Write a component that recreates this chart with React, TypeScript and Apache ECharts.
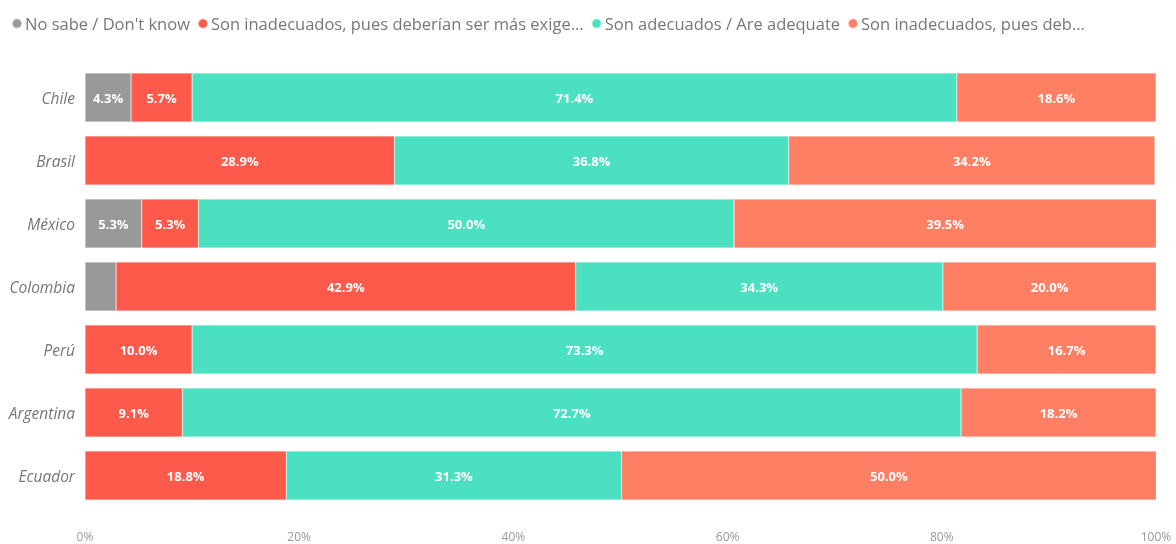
import React, { useEffect, useRef } from "react";
import * as echarts from "echarts";

const categories = ["Chile", "Brasil", "México", "Colombia", "Perú", "Argentina", "Ecuador"];
const seriesNames = [
  "No sabe / Don't know",
  "Son inadecuados, pues deberían ser más exigentes",
  "Son adecuados / Are adequate",
  "Son inadecuados, pues deberían ser menos exigentes",
];
const legendLabels = [
  "No sabe / Don't know",
  "Son inadecuados, pues deberían ser más exige...",
  "Son adecuados / Are adequate",
  "Son inadecuados, pues deb...",
];
const noSabe = [4.3, null, 5.3, 2.9, null, null, null];
const masExigentes = [5.7, 28.9, 5.3, 42.9, 10.0, 9.1, 18.8];
const adecuados = [71.4, 36.8, 50.0, 34.3, 73.3, 72.7, 31.3];
const menosExigentes = [18.6, 34.2, 39.5, 20.0, 16.7, 18.2, 50.0];
const xTicks = [0, 20, 40, 60, 80, 100];
const colors = ["#999999", "#FD5A4B", "#4BE0C1", "#FE7F63"];

export default function App() {
  const ref = useRef<HTMLDivElement>(null);
  useEffect(() => {
    const chart = echarts.init(ref.current!, null, { renderer: "svg" });
    const data = [noSabe, masExigentes, adecuados, menosExigentes];
    chart.setOption({
      animation: false,
      color: colors,
      legend: {
        left: 6,
        top: 10,
        icon: "circle",
        itemWidth: 10,
        itemHeight: 10,
        itemGap: 7,
        textStyle: { color: "#777", fontSize: 16.5, fontFamily: "Open Sans", padding: [0, 0, 0, -2] },
        formatter: (n: string) => legendLabels[seriesNames.indexOf(n)],
      },
      grid: { left: 85, right: 20, top: 66, bottom: 37 },
      xAxis: {
        type: "value",
        min: 0,
        max: 100,
        interval: 20,
        axisLine: { show: false },
        axisTick: { show: false },
        splitLine: { show: false },
        axisLabel: {
          color: "#999",
          fontSize: 12,
          fontFamily: "Open Sans",
          margin: 23,
          formatter: (v: number) => (xTicks.includes(v) ? v + "%" : ""),
        },
      },
      yAxis: {
        type: "category",
        data: categories,
        inverse: true,
        axisLine: { show: false },
        axisTick: { show: false },
        axisLabel: {
          color: "#777",
          fontSize: 15.5,
          fontStyle: "italic",
          fontFamily: "Open Sans",
          margin: 10,
        },
      },
      series: seriesNames.map((name, i) => ({
        name,
        type: "bar",
        stack: "total",
        barCategoryGap: "22%",
        data: data[i],
        itemStyle: { color: colors[i], borderColor: "rgba(255,255,255,0.5)", borderWidth: 0.5 },
        label: {
          show: true,
          position: "inside",
          color: "#fff",
          fontWeight: "bold",
          fontSize: 13,
          fontFamily: "Open Sans",
          formatter: (p: any) => (p.value != null && p.value >= 4 ? p.value.toFixed(1) + "%" : ""),
        },
      })),
    });
    return () => chart.dispose();
  }, []);
  return (
    <div
      ref={ref}
      style={{ position: "fixed", left: 0, top: 0, width: 1176, height: 544 }}
    />
  );
}
